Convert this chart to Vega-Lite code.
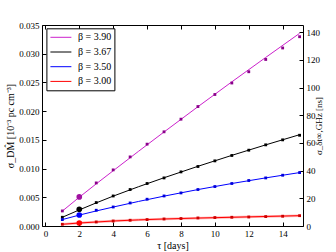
{
 "$schema": "https://vega.github.io/schema/vega-lite/v6.json",
 "width": 261, "height": 201,
 "autosize": {"type": "none"},
 "padding": {"left": 42, "top": 25, "right": 33, "bottom": 26},
 "config": {
  "view": {"stroke": "black", "strokeWidth": 1},
  "font": "Liberation Serif",
  "axis": {"grid": false, "domain": false, "tickColor": "black", "tickSize": -4, "labelFont": "Liberation Serif", "labelFontSize": 9, "labelColor": "black", "labelPadding": 7, "titleFont": "Liberation Serif", "titleFontSize": 10, "titleFontWeight": "normal", "titleColor": "black"},
  "legend": {"orient": "none", "legendX": 4.4, "legendY": 3.3, "strokeColor": "black", "fillColor": "white", "padding": 3, "rowPadding": 3.7, "symbolType": "M-2,0H2", "symbolSize": 110, "symbolStrokeWidth": 1, "symbolOffset": 5.5, "labelOffset": 11, "labelFont": "Liberation Serif", "labelFontSize": 10, "labelColor": "black", "cornerRadius": 0}
 },
 "datasets": {
  "pts": [
   {"beta": "β = 3.90", "tau": 1, "s": 0.00262}, {"beta": "β = 3.90", "tau": 2, "s": 0.00506}, {"beta": "β = 3.90", "tau": 3, "s": 0.0075}, {"beta": "β = 3.90", "tau": 4, "s": 0.00977}, {"beta": "β = 3.90", "tau": 5, "s": 0.01203}, {"beta": "β = 3.90", "tau": 6, "s": 0.01425}, {"beta": "β = 3.90", "tau": 7, "s": 0.0164}, {"beta": "β = 3.90", "tau": 8, "s": 0.0186}, {"beta": "β = 3.90", "tau": 9, "s": 0.0208}, {"beta": "β = 3.90", "tau": 10, "s": 0.0229}, {"beta": "β = 3.90", "tau": 11, "s": 0.0249}, {"beta": "β = 3.90", "tau": 12, "s": 0.02686}, {"beta": "β = 3.90", "tau": 13, "s": 0.029}, {"beta": "β = 3.90", "tau": 14, "s": 0.031}, {"beta": "β = 3.90", "tau": 15, "s": 0.03296},
   {"beta": "β = 3.67", "tau": 1, "s": 0.00152}, {"beta": "β = 3.67", "tau": 2, "s": 0.00291}, {"beta": "β = 3.67", "tau": 3, "s": 0.00408}, {"beta": "β = 3.67", "tau": 4, "s": 0.00523}, {"beta": "β = 3.67", "tau": 5, "s": 0.00635}, {"beta": "β = 3.67", "tau": 6, "s": 0.0074}, {"beta": "β = 3.67", "tau": 7, "s": 0.00837}, {"beta": "β = 3.67", "tau": 8, "s": 0.00942}, {"beta": "β = 3.67", "tau": 9, "s": 0.01036}, {"beta": "β = 3.67", "tau": 10, "s": 0.01134}, {"beta": "β = 3.67", "tau": 11, "s": 0.01228}, {"beta": "β = 3.67", "tau": 12, "s": 0.0132}, {"beta": "β = 3.67", "tau": 13, "s": 0.01413}, {"beta": "β = 3.67", "tau": 14, "s": 0.015}, {"beta": "β = 3.67", "tau": 15, "s": 0.0158},
   {"beta": "β = 3.50", "tau": 1, "s": 0.00112}, {"beta": "β = 3.50", "tau": 2, "s": 0.00192}, {"beta": "β = 3.50", "tau": 3, "s": 0.00274}, {"beta": "β = 3.50", "tau": 4, "s": 0.00331}, {"beta": "β = 3.50", "tau": 5, "s": 0.00401}, {"beta": "β = 3.50", "tau": 6, "s": 0.00466}, {"beta": "β = 3.50", "tau": 7, "s": 0.00523}, {"beta": "β = 3.50", "tau": 8, "s": 0.00576}, {"beta": "β = 3.50", "tau": 9, "s": 0.00635}, {"beta": "β = 3.50", "tau": 10, "s": 0.00687}, {"beta": "β = 3.50", "tau": 11, "s": 0.0074}, {"beta": "β = 3.50", "tau": 12, "s": 0.00792}, {"beta": "β = 3.50", "tau": 13, "s": 0.00837}, {"beta": "β = 3.50", "tau": 14, "s": 0.00884}, {"beta": "β = 3.50", "tau": 15, "s": 0.0093},
   {"beta": "β = 3.00", "tau": 1, "s": 0.0003}, {"beta": "β = 3.00", "tau": 2, "s": 0.00052}, {"beta": "β = 3.00", "tau": 3, "s": 0.0007}, {"beta": "β = 3.00", "tau": 4, "s": 0.00087}, {"beta": "β = 3.00", "tau": 5, "s": 0.001}, {"beta": "β = 3.00", "tau": 6, "s": 0.00112}, {"beta": "β = 3.00", "tau": 7, "s": 0.00122}, {"beta": "β = 3.00", "tau": 8, "s": 0.0013}, {"beta": "β = 3.00", "tau": 9, "s": 0.0014}, {"beta": "β = 3.00", "tau": 10, "s": 0.00147}, {"beta": "β = 3.00", "tau": 11, "s": 0.00152}, {"beta": "β = 3.00", "tau": 12, "s": 0.00157}, {"beta": "β = 3.00", "tau": 13, "s": 0.00164}, {"beta": "β = 3.00", "tau": 14, "s": 0.0017}, {"beta": "β = 3.00", "tau": 15, "s": 0.0018}
  ],
  "fit": [
   {"beta": "β = 3.90", "tau": 1, "s": 0.0026}, {"beta": "β = 3.90", "tau": 2, "s": 0.00501}, {"beta": "β = 3.90", "tau": 4, "s": 0.00962}, {"beta": "β = 3.90", "tau": 7, "s": 0.01637}, {"beta": "β = 3.90", "tau": 11, "s": 0.0251}, {"beta": "β = 3.90", "tau": 15, "s": 0.03355},
   {"beta": "β = 3.67", "tau": 1, "s": 0.00152}, {"beta": "β = 3.67", "tau": 2, "s": 0.0028}, {"beta": "β = 3.67", "tau": 4, "s": 0.0052}, {"beta": "β = 3.67", "tau": 7, "s": 0.0084}, {"beta": "β = 3.67", "tau": 11, "s": 0.0123}, {"beta": "β = 3.67", "tau": 15, "s": 0.0159},
   {"beta": "β = 3.50", "tau": 1, "s": 0.00112}, {"beta": "β = 3.50", "tau": 2, "s": 0.0019}, {"beta": "β = 3.50", "tau": 4, "s": 0.0033}, {"beta": "β = 3.50", "tau": 7, "s": 0.0052}, {"beta": "β = 3.50", "tau": 11, "s": 0.0074}, {"beta": "β = 3.50", "tau": 15, "s": 0.0093},
   {"beta": "β = 3.00", "tau": 1, "s": 0.0003}, {"beta": "β = 3.00", "tau": 2, "s": 0.00052}, {"beta": "β = 3.00", "tau": 4, "s": 0.00087}, {"beta": "β = 3.00", "tau": 7, "s": 0.00122}, {"beta": "β = 3.00", "tau": 11, "s": 0.00152}, {"beta": "β = 3.00", "tau": 15, "s": 0.0018}
  ]
 },
 "layer": [
  {
   "layer": [
    {
     "data": {"name": "fit"},
     "transform": [{"filter": "datum.beta == 'β = 3.00'"}],
     "mark": {"type": "line", "color": "#ff8080", "strokeWidth": 2.5, "opacity": 0.6, "interpolate": "monotone"},
     "encoding": {
      "x": {"field": "tau", "type": "quantitative", "scale": {"domain": [-0.2, 15.2], "nice": false, "zero": false}, "axis": {"values": [0, 2, 4, 6, 8, 10, 12, 14], "title": "τ [days]", "titlePadding": 2}},
      "y": {"field": "s", "type": "quantitative", "scale": {"domain": [0, 0.035], "nice": false}, "axis": {"values": [0, 0.005, 0.01, 0.015, 0.02, 0.025, 0.03, 0.035], "format": ".3f", "title": "σ_DM̂ [10⁻³ pc cm⁻³]", "titlePadding": 3}}
     }
    },
    {
     "data": {"name": "fit"},
     "mark": {"type": "line", "strokeWidth": 1, "interpolate": "monotone"},
     "encoding": {
      "x": {"field": "tau", "type": "quantitative", "axis": null},
      "y": {"field": "s", "type": "quantitative", "axis": {"values": [0, 0.005, 0.01, 0.015, 0.02, 0.025, 0.03, 0.035], "format": ".3f", "title": "σ_DM̂ [10⁻³ pc cm⁻³]", "titlePadding": 3}},
      "color": {"field": "beta", "type": "nominal", "scale": {"domain": ["β = 3.90", "β = 3.67", "β = 3.50", "β = 3.00"], "range": ["#cc22cc", "black", "blue", "red"]}, "legend": {"title": null, "labelFont": "Liberation Serif", "labelFontSize": 10, "labelColor": "black"}}
     }
    },
    {
     "data": {"name": "pts"},
     "mark": {"type": "square", "size": 8, "filled": true, "opacity": 1},
     "encoding": {
      "x": {"field": "tau", "type": "quantitative", "axis": null},
      "y": {"field": "s", "type": "quantitative", "axis": {"values": [0, 0.005, 0.01, 0.015, 0.02, 0.025, 0.03, 0.035], "format": ".3f", "title": "σ_DM̂ [10⁻³ pc cm⁻³]", "titlePadding": 3}},
      "color": {"field": "beta", "type": "nominal", "legend": null, "scale": {"domain": ["β = 3.90", "β = 3.67", "β = 3.50", "β = 3.00"], "range": ["#8a008a", "black", "#0000dd", "#cc0000"]}}
     }
    },
    {
     "data": {"name": "pts"},
     "transform": [{"filter": "datum.tau == 2"}],
     "mark": {"type": "circle", "size": 32, "opacity": 1},
     "encoding": {
      "x": {"field": "tau", "type": "quantitative", "axis": null},
      "y": {"field": "s", "type": "quantitative", "axis": {"values": [0, 0.005, 0.01, 0.015, 0.02, 0.025, 0.03, 0.035], "format": ".3f", "title": "σ_DM̂ [10⁻³ pc cm⁻³]", "titlePadding": 3}},
      "color": {"field": "beta", "type": "nominal", "legend": null, "scale": {"domain": ["β = 3.90", "β = 3.67", "β = 3.50", "β = 3.00"], "range": ["#a010a0", "black", "blue", "red"]}}
     }
    },
    {
     "data": {"name": "pts"},
     "mark": {"type": "point", "opacity": 0},
     "encoding": {
      "x": {"field": "tau", "type": "quantitative", "axis": {"orient": "top", "values": [0, 2, 4, 6, 8, 10, 12, 14], "labels": false, "title": null, "tickSize": -4}},
      "y": {"field": "s", "type": "quantitative", "axis": {"values": [0, 0.005, 0.01, 0.015, 0.02, 0.025, 0.03, 0.035], "format": ".3f", "title": "σ_DM̂ [10⁻³ pc cm⁻³]", "titlePadding": 3}}
     }
    }
   ],
   "resolve": {"scale": {"color": "independent"}, "axis": {"x": "independent"}}
  },
  {
   "data": {"values": [{"ns": 0}, {"ns": 145.25}]},
   "mark": {"type": "point", "opacity": 0},
   "encoding": {
    "y": {"field": "ns", "type": "quantitative", "scale": {"domain": [0, 145.25], "nice": false}, "axis": {"orient": "right", "values": [0, 20, 40, 60, 80, 100, 120, 140], "title": "σ_δt∞,GHz [ns]", "titleAngle": -90, "titleFontSize": 9, "titlePadding": 4}}
   }
  }
 ],
 "resolve": {"scale": {"y": "independent"}}
}
